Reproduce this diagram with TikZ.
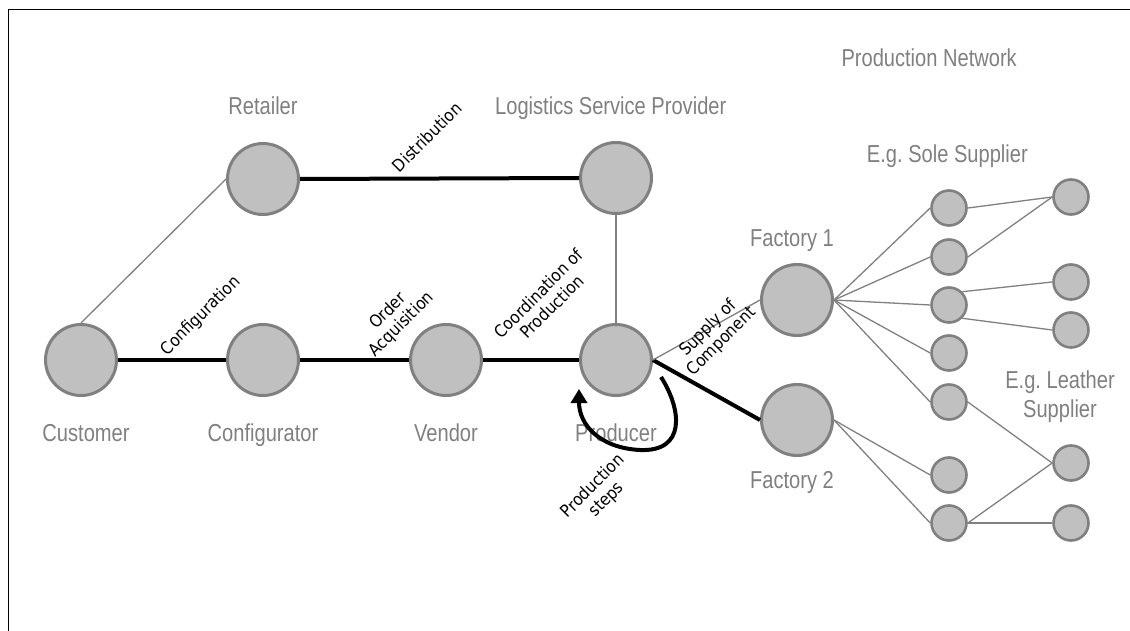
\documentclass[tikz,border=0pt]{standalone}
\usepackage{fontspec}
\usetikzlibrary{arrows.meta}
\newfontfamily\labelfont[FakeStretch=0.82]{Liberation Sans}
\newfontfamily\flowfont[FakeStretch=0.9]{DejaVu Sans}
\definecolor{nodegray}{HTML}{C0C0C0}
\definecolor{rimgray}{HTML}{808080}
\definecolor{textgray}{HTML}{808080}
\frenchspacing

\begin{document}
\begin{tikzpicture}[x=1pt,y=-1pt,
  actor/.style={circle,draw=rimgray,fill=nodegray,line width=3pt,minimum size=71pt,inner sep=0pt},
  supplier/.style={circle,draw=rimgray,fill=nodegray,line width=2.6pt,minimum size=35pt,inner sep=0pt},
  rolename/.style={text=textgray,font=\labelfont\fontsize{24.5}{29}\selectfont,inner sep=0pt,align=center},
  flow/.style={font=\flowfont\fontsize{17}{19}\selectfont,rotate=45,align=center,inner sep=0pt},
  strong/.style={line width=4pt,black},
  weak/.style={line width=1.3pt,rimgray},
]
\useasboundingbox (0,0) rectangle (1130,631);
% outer frame (only top and left edges fall inside the page)
\draw[line width=1.5pt] (8.5,631) -- (8.5,9.5) -- (1130,9.5);

% main actors
\node[actor] (customer)     at (81,360)  {};
\node[actor] (configurator) at (263,360) {};
\node[actor] (vendor)       at (446,360) {};
\node[actor] (producer)     at (616,360) {};
\node[actor] (retailer)     at (263,179) {};
\node[actor] (logistics)    at (616,178) {};
\node[actor] (factoryA)     at (797,300) {};
\node[actor] (factoryB)     at (797,420) {};

% first tier suppliers
\node[supplier] (s1) at (949,208) {};
\node[supplier] (s2) at (949,257) {};
\node[supplier] (s3) at (949,305) {};
\node[supplier] (s4) at (949,353) {};
\node[supplier] (s5) at (949,402) {};
\node[supplier] (s6) at (949,475) {};
\node[supplier] (s7) at (949,523) {};
% second tier suppliers
\node[supplier] (t1) at (1071,197) {};
\node[supplier] (t2) at (1071,282) {};
\node[supplier] (t3) at (1071,330) {};
\node[supplier] (t4) at (1071,463) {};
\node[supplier] (t5) at (1071,523) {};

% actor names
\node[rolename,anchor=base] (nCustomer) at (86,441) {Customer};
\node[rolename,anchor=base] (nConfigurator) at (263,441) {Configurator};
\node[rolename,anchor=base] (nVendor) at (446,441) {Vendor};
\node[rolename,anchor=base] (nProducer) at (616,441) {Producer};
\node[rolename,anchor=base] (nRetailer) at (263,115) {Retailer};
\node[rolename,anchor=base west] (nLogistics) at (495,115) {Logistics Service Provider};
\node[rolename,anchor=base east] (nNetwork) at (1017,67) {Production Network};
\node[rolename,anchor=base east] (nSole) at (1028,163) {E.g. Sole Supplier};
\node[rolename,anchor=base] (nFactoryA) at (792,247) {Factory 1};
\node[rolename,anchor=base] (nFactoryB) at (792,488) {Factory 2};
\node[rolename,anchor=base] (nLeather) at (1060,388) {E.g. Leather};
\node[rolename,anchor=base] (nLeather2) at (1060,417) {Supplier};

% process links
\draw[strong] (customer.east) -- (configurator.west);
\draw[strong] (configurator.east) -- (vendor.west);
\draw[strong] (vendor.east) -- (producer.west);
\draw[strong] (retailer.east) -- (logistics.west);
\draw[strong] (producer.east) -- (factoryB.west);
\draw[weak] (customer.north) -- (retailer.west);
\draw[weak] (logistics.south) -- (producer.north);
\draw[weak] (producer.east) -- (factoryA.west);

% supplier network
\foreach \s in {s1,s2,s3,s4,s5} \draw[weak] (factoryA.east) -- (\s.west);
\foreach \s in {s6,s7} \draw[weak] (factoryB.east) -- (\s.west);
\draw[weak] (s1.east) -- (t1.west);
\draw[weak] (s2.east) -- (t1.west);
\draw[weak] (s3.north east) -- (t2.west);
\draw[weak] (s3.south east) -- (t3.west);
\draw[weak] (s5.east) -- (t4.west);
\draw[weak] (s7.east) -- (t4.west);
\draw[weak] (s7.east) -- (t5.west);

% production loop at the producer
\coordinate (loopStart) at (661,377);
\coordinate (loopEnd) at (579,389);
\draw[strong,-{Triangle[length=14pt,width=16pt]}] (loopStart)
  .. controls (682,410) and (686,452) .. (640,450)
  .. controls (600,448) and (579,425) .. (loopEnd);

% flow labels
\node[flow] (lConfig) at (201,316) {Configuration};
\node[flow] (lOrder) at (395,318) {Order\\Acquisition};
\node[flow] (lDist) at (427,137) {Distribution};
\node[flow] (lCoord) at (545,300) {Coordination of\\Production};
\node[flow] (lSupply) at (715,335) {Supply of\\Component};
\node[flow] (lSteps) at (600,493) {Production\\steps};
\end{tikzpicture}
\end{document}
